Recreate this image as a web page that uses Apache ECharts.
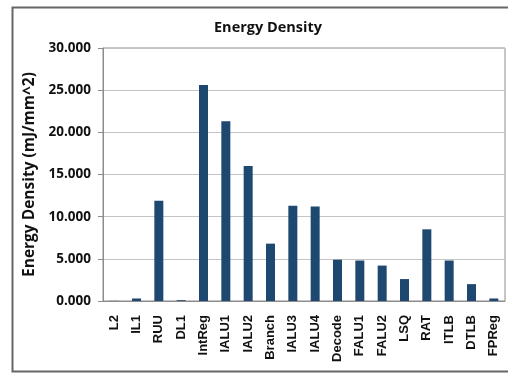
<!DOCTYPE html>
<html>
<head>
<meta charset="utf-8">
<script src="https://cdn.jsdelivr.net/npm/echarts@6/dist/echarts.min.js"></script>
<style>
  html, body { margin: 0; padding: 0; background: #fff; }
  #chart { width: 508px; height: 373px; }
</style>
</head>
<body>
<div id="chart"></div>
<script>
// units
var units = ["L2", "IL1", "RUU", "DL1", "IntReg", "IALU1", "IALU2", "Branch", "IALU3",
    "IALU4", "Decode", "FALU1", "FALU2", "LSQ", "RAT", "ITLB", "DTLB", "FPReg"];
var energyDensity = [0.02, 0.3, 11.9, 0.1, 25.6, 21.3, 16.0, 6.8, 11.3,
    11.2, 4.9, 4.8, 4.2, 2.6, 8.5, 4.8, 2.0, 0.3];
var yTicks = [0, 5, 10, 15, 20, 25, 30];

var font = "'Open Sans', 'Liberation Sans', sans-serif";
var chart = echarts.init(document.getElementById("chart"));
chart.setOption({
    animation: false,
    title: {
        text: "Energy Density",
        left: 263,
        textAlign: "center",
        top: 15,
        textStyle: { fontFamily: font, fontSize: 14.5, fontWeight: "bold", color: "#111" }
    },
    graphic: [{
        type: "rect",
        shape: { x: 12.5, y: 7.5, width: 520, height: 364 },
        style: { fill: null, stroke: "#666", lineWidth: 2 },
        silent: true
    }],
    grid: {
        left: 103,
        right: 3,
        top: 48,
        bottom: 72,
        show: true,
        borderColor: "#8c8c8c",
        borderWidth: 1
    },
    xAxis: {
        type: "category",
        data: units,
        axisLine: { lineStyle: { color: "#8c8c8c" } },
        axisTick: { show: false },
        axisLabel: {
            rotate: 90,
            interval: 0,
            margin: 14,
            fontFamily: "'Liberation Sans', Arial, sans-serif",
            fontSize: 13,
            fontWeight: "bold",
            color: "#111"
        }
    },
    yAxis: {
        type: "value",
        min: yTicks[0],
        max: yTicks[yTicks.length - 1],
        interval: 5,
        name: "Energy Density (mJ/mm^2)",
        nameLocation: "middle",
        nameGap: 63,
        nameTextStyle: { fontFamily: font, fontSize: 15.5, fontWeight: "bold", color: "#111" },
        axisLine: { show: true, lineStyle: { color: "#8c8c8c" } },
        axisTick: { show: true, length: 5, lineStyle: { color: "#8c8c8c" } },
        splitLine: { lineStyle: { color: "#c4c4c4" } },
        axisLabel: {
            margin: 12,
            fontFamily: font,
            fontSize: 13.5,
            fontWeight: "bold",
            color: "#111",
            formatter: function (v) { return v.toFixed(3); }
        }
    },
    series: [{
        type: "bar",
        data: energyDensity,
        barWidth: 9,
        itemStyle: { color: "#1f4870" }
    }]
});
</script>
</body>
</html>
